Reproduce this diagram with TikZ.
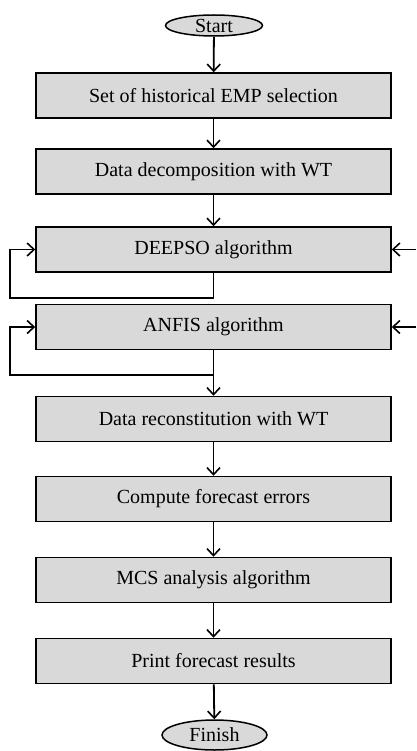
\documentclass[tikz,border=0pt]{standalone}
\usepackage{fontspec}
\setmainfont{Liberation Serif}
\usetikzlibrary{arrows.meta,shapes.geometric}
\definecolor{boxgray}{HTML}{D9D9D9}
\begin{document}
\begin{tikzpicture}[x=1pt,y=-1pt,
  stepbox/.style={draw, fill=boxgray, line width=1.5pt, minimum width=355pt,
    minimum height=45pt, inner sep=0pt, font=\fontsize{20}{24}\selectfont},
  terminal/.style={draw, fill=boxgray, ellipse, line width=1.5pt, inner sep=0pt,
    font=\fontsize{20}{24}\selectfont},
  flow/.style={line width=1.8pt, -{Straight Barb[length=7pt,width=13pt,line width=1.6pt]}},
  plain/.style={line width=1.8pt}]
\useasboundingbox (0,0) rectangle (416,751);

% terminals and process steps
\node[terminal, minimum width=97pt, minimum height=21pt] (start) at (214,25.5) {Start};
\node[stepbox] (sel)   at (213.5,95.5)  {Set of historical EMP selection};
\node[stepbox] (dec)   at (213.5,171.5) {Data decomposition with WT};
\node[stepbox] (deep)  at (213.5,249.5) {DEEPSO algorithm};
\node[stepbox] (anfis) at (213.5,327)   {ANFIS algorithm};
\node[stepbox] (rec)   at (213.5,419)   {Data reconstitution with WT};
\node[stepbox] (err)   at (213.5,499)   {Compute forecast errors};
\node[stepbox] (mcs)   at (213.5,580)   {MCS analysis algorithm};
\node[stepbox] (prn)   at (213.5,661)   {Print forecast results};
\node[terminal, minimum width=105pt, minimum height=30pt] (fin) at (214.5,735) {Finish};

% helper points for the loops and side inputs
\coordinate (deepin) at (416,249.5);
\coordinate (anfisin) at (416,327);
\coordinate (deeploop) at (213.5,298);
\coordinate (anfisloop) at (213.5,375);

% main flow
\draw[flow] (start) -- (sel);
\draw[flow] (sel) -- (dec);
\draw[flow] (dec) -- (deep);
\draw[flow] (anfis) -- (rec);
\draw[flow] (rec) -- (err);
\draw[flow] (err) -- (mcs);
\draw[flow] (mcs) -- (prn);
\draw[flow] (prn) -- (fin);

% DEEPSO feedback loop
\draw[flow] (deep.south) -- (deeploop) -| (10,249.5) -- (deep.west);
% ANFIS feedback loop
\draw[flow] (anfisloop) -| (10,327) -- (anfis.west);

% external inputs from the right
\draw[flow] (deepin) -- (deep.east);
\draw[flow] (anfisin) -- (anfis.east);
\end{tikzpicture}
\end{document}
